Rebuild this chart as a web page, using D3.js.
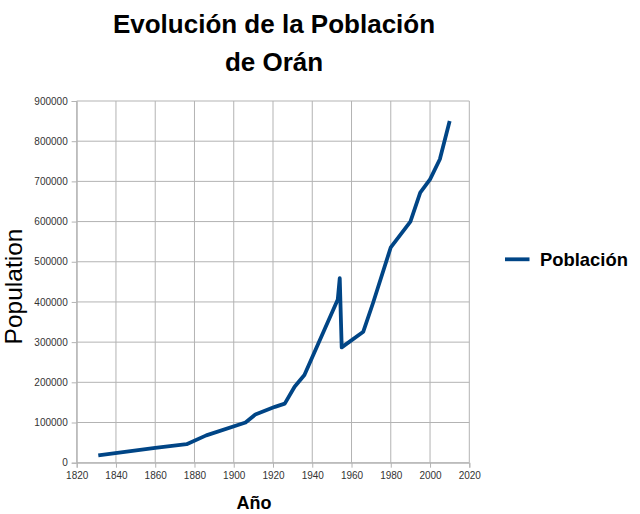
<!DOCTYPE html>
<html><head><meta charset="utf-8">
<script src="https://cdn.jsdelivr.net/npm/d3@7"></script>
<style>body{margin:0;background:#fff}svg{display:block}</style>
</head><body>
<svg id="c" width="640" height="514"></svg>
<script>
const years = [1831, 1860, 1876, 1886, 1906, 1911, 1921, 1926, 1931, 1936, 1953, 1954, 1955, 1966, 1971, 1980, 1990, 1995, 2000, 2005, 2010];
const population = [18000, 37000, 46000, 68000, 100000, 120000, 139000, 147000, 189000, 218000, 406000, 459000, 287000, 326000, 398000, 536000, 600000, 672000, 705000, 755000, 850000];
const xTicks = [1820, 1840, 1860, 1880, 1900, 1920, 1940, 1960, 1980, 2000, 2020];
const yTicks = [0, 100000, 200000, 300000, 400000, 500000, 600000, 700000, 800000, 900000];
const titleLines = ["Evolución de la Población", "de Orán"];
const seriesName = "Población";

const svg = d3.select("#c");
const x = d3.scaleLinear().domain([1820, 2020]).range([76.7, 469.3]);
const y = d3.scaleLinear().domain([0, 900000]).range([462.7, 101]);
const grid = "#b3b3b3";

// grid
svg.append("g").selectAll("line").data(xTicks).join("line")
  .attr("x1", d => x(d)).attr("x2", d => x(d)).attr("y1", y(900000)).attr("y2", y(0))
  .attr("stroke", grid).attr("stroke-width", 1);
svg.append("g").selectAll("line").data(yTicks).join("line")
  .attr("x1", x(1820)).attr("x2", x(2020)).attr("y1", d => y(d)).attr("y2", d => y(d))
  .attr("stroke", grid).attr("stroke-width", 1);

// axes
const xAxis = d3.axisBottom(x).tickValues(xTicks).tickSize(5).tickPadding(4).tickFormat(d3.format("d"));
const gx = svg.append("g").attr("transform", `translate(0,${y(0)})`).call(xAxis);
const yAxis = d3.axisLeft(y).tickValues(yTicks).tickSize(5).tickPadding(4).tickFormat(d3.format("d"));
const gy = svg.append("g").attr("transform", `translate(${x(1820)},0)`).call(yAxis);
[gx, gy].forEach(g => {
  g.select(".domain").attr("stroke", grid);
  g.selectAll(".tick line").attr("stroke", grid);
  g.selectAll(".tick text").attr("fill", "#333").style("font-family", "'Liberation Sans', Arial, sans-serif").style("font-size", "10px");
});

// line
const line = d3.line().x((d, i) => x(years[i])).y((d, i) => y(population[i]));
svg.append("path").datum(population).attr("d", line)
  .attr("fill", "none").attr("stroke", "#004586").attr("stroke-width", 3.8)
  .attr("stroke-linejoin", "round").attr("stroke-linecap", "butt");

// title
svg.append("g").selectAll("text").data(titleLines).join("text")
  .attr("x", 274).attr("y", (d, i) => 33 + i * 38)
  .attr("text-anchor", "middle")
  .style("font-family", "'Liberation Sans', Arial, sans-serif").style("font-weight", "bold").style("font-size", "26px")
  .attr("fill", "#000").text(d => d);

// axis titles
svg.append("text").attr("x", 254).attr("y", 508.5).attr("text-anchor", "middle")
  .style("font-family", "'Liberation Sans', Arial, sans-serif").style("font-weight", "bold").style("font-size", "18px")
  .text("Año");
svg.append("text").attr("transform", "translate(22,286.5) rotate(-90)").attr("text-anchor", "middle")
  .style("font-family", "'Liberation Sans', Arial, sans-serif").style("font-size", "24.5px")
  .text("Population");

// legend
svg.append("line").attr("x1", 505).attr("x2", 529.5).attr("y1", 259.3).attr("y2", 259.3)
  .attr("stroke", "#004586").attr("stroke-width", 3.8);
svg.append("text").attr("x", 540).attr("y", 265.7)
  .style("font-family", "'Liberation Sans', Arial, sans-serif").style("font-weight", "bold").style("font-size", "18.4px")
  .text(seriesName);
</script>
</body></html>
